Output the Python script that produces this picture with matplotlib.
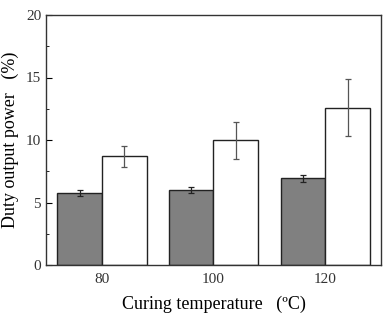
import numpy as np
import matplotlib
matplotlib.use('Agg')
import matplotlib.pyplot as plt
from matplotlib.ticker import MultipleLocator

plt.rcParams['font.family'] = ['Liberation Serif', 'DejaVu Serif']

temps = ['80', '100', '120']
gray_vals = [5.78, 6.0, 6.93]
gray_err = [0.25, 0.27, 0.3]
white_vals = [8.7, 9.97, 12.6]
white_err = [0.85, 1.5, 2.3]

x = np.arange(len(temps))
w = 0.4

fig = plt.figure(figsize=(3.89, 3.16), dpi=100)
ax = fig.add_axes([46/389, 1 - 265/316, 335/389, 250/316])

# gray bars with dark error bars, white bars with lighter ones
ax.bar(x - w/2, gray_vals, w, yerr=gray_err, capsize=2, color='#808080',
       edgecolor='#222222', linewidth=1.0,
       error_kw=dict(elinewidth=0.9, capthick=0.9, ecolor='#222222'))
ax.bar(x + w/2, white_vals, w, yerr=white_err, capsize=2, color='white',
       edgecolor='#222222', linewidth=1.0,
       error_kw=dict(elinewidth=0.9, capthick=0.9, ecolor='#555555'))

ax.set_xlim(-0.5, 2.5)
ax.set_ylim(0, 20)
ax.set_xticks(x)
ax.set_xticklabels(temps, fontsize=11, color='#333333')
ax.tick_params(axis='x', length=0, pad=6)
ax.yaxis.set_major_locator(MultipleLocator(5))
ax.yaxis.set_minor_locator(MultipleLocator(2.5))
ax.tick_params(axis='y', which='both', direction='in', labelsize=11, labelcolor='#333333')
ax.tick_params(axis='y', which='major', length=4)
ax.tick_params(axis='y', which='minor', length=2)
for s in ax.spines.values():
    s.set_linewidth(1.0)
    s.set_color('#333333')

ax.set_ylabel('Duty output power   (%)', fontsize=13, labelpad=5)
ax.set_xlabel('Curing temperature   (ºC)', fontsize=13, labelpad=7)

fig.savefig('out.png', dpi=100)
